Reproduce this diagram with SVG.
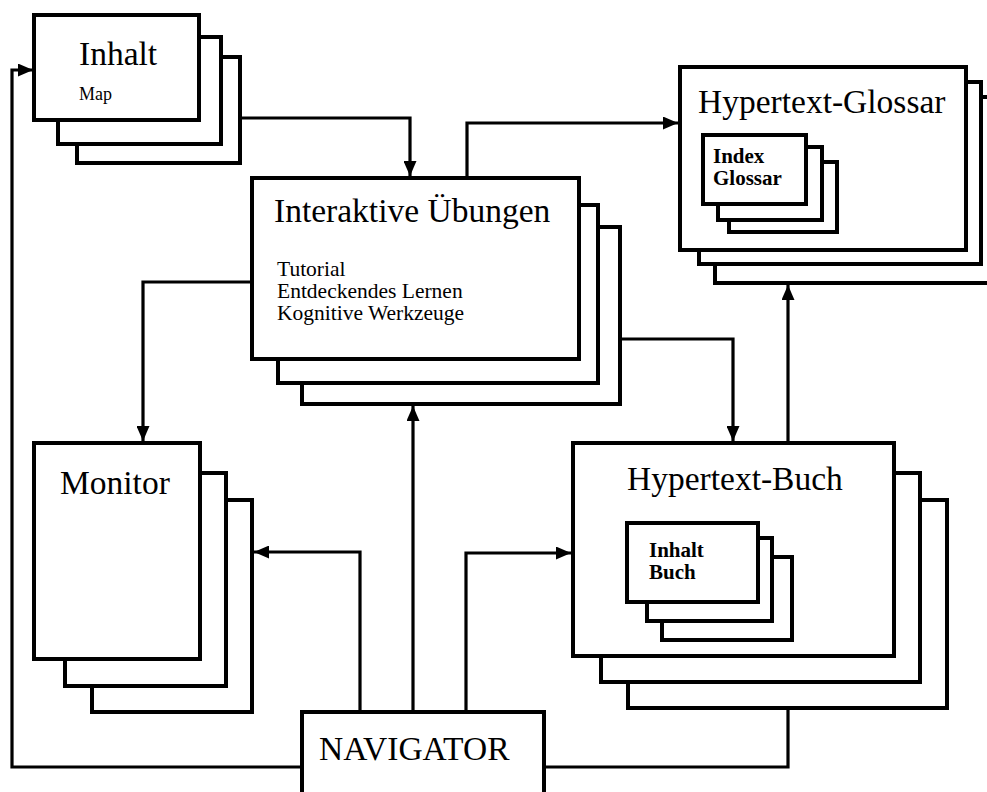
<svg xmlns="http://www.w3.org/2000/svg" width="987" height="792" viewBox="0 0 987 792">
<style>
.b{fill:#fff;stroke:#000;stroke-width:4}
.c{fill:none;stroke:#000;stroke-width:3.2}
.h{font-family:"Liberation Serif","Times New Roman",serif;font-size:33.5px;fill:#000}
.s{font-family:"Liberation Serif","Times New Roman",serif;font-size:21.5px;fill:#000}
.m{font-family:"Liberation Serif","Times New Roman",serif;font-size:18px;fill:#000}
.k{font-family:"Liberation Serif","Times New Roman",serif;font-size:21px;font-weight:bold;fill:#000}
</style>
<defs>
<marker id="ah" viewBox="0 0 15 13" refX="15" refY="6.5" markerWidth="15" markerHeight="13" orient="auto" markerUnits="userSpaceOnUse"><path d="M0,0 L15,6.5 L0,13 z" fill="#000"/></marker>
</defs>
<rect width="987" height="792" fill="#fff"/>
<g id="connectors">
<path class="c" d="M302,767 L12,767 L12,70 L33,70" marker-end="url(#ah)"/>
<path class="c" d="M544,767 L788,767 L788,708"/>
<path class="c" d="M360,712 L360,552 L254,552" marker-end="url(#ah)"/>
<path class="c" d="M413,712 L413,406" marker-end="url(#ah)"/>
<path class="c" d="M466,712 L466,553 L571,553" marker-end="url(#ah)"/>
<path class="c" d="M240,118 L410,118 L410,176" marker-end="url(#ah)"/>
<path class="c" d="M467,178 L467,123 L678,123" marker-end="url(#ah)"/>
<path class="c" d="M252,282 L143,282 L143,441" marker-end="url(#ah)"/>
<path class="c" d="M620,339 L733,339 L733,441" marker-end="url(#ah)"/>
<path class="c" d="M788,443 L788,285" marker-end="url(#ah)"/>
</g>
<g id="inhalt">
<rect class="b" x="77" y="57" width="163" height="106"/>
<rect class="b" x="58" y="37" width="163" height="107"/>
<rect class="b" x="34" y="15" width="165" height="105"/>
<text class="h" x="79" y="65">Inhalt</text>
<text class="m" x="79" y="100">Map</text>
</g>
<g id="interaktive">
<rect class="b" x="302" y="227" width="318" height="177"/>
<rect class="b" x="278" y="205" width="320" height="178"/>
<rect class="b" x="252" y="178" width="327" height="181"/>
<text class="h" x="274" y="222">Interaktive Übungen</text>
<text class="s" x="277" y="276">Tutorial</text>
<text class="s" x="277" y="298">Entdeckendes Lernen</text>
<text class="s" x="277" y="320">Kognitive Werkzeuge</text>
</g>
<g id="glossar">
<rect class="b" x="715" y="97" width="290" height="186"/>
<rect class="b" x="699" y="82" width="282" height="182"/>
<rect class="b" x="680" y="67" width="286" height="183"/>
<text class="h" x="698" y="113">Hypertext-Glossar</text>
<g id="index-glossar">
<rect class="b" x="729" y="162" width="108" height="70"/>
<rect class="b" x="718" y="147" width="104" height="73"/>
<rect class="b" x="703" y="135" width="103" height="69"/>
<text class="k" x="713" y="163">Index</text>
<text class="k" x="713" y="185">Glossar</text>
</g>
</g>
<g id="monitor">
<rect class="b" x="92" y="500" width="160" height="212"/>
<rect class="b" x="65" y="473" width="161" height="213"/>
<rect class="b" x="34" y="443" width="166" height="216"/>
<text class="h" x="60" y="494">Monitor</text>
</g>
<g id="buch">
<rect class="b" x="628" y="500" width="319" height="208"/>
<rect class="b" x="601" y="473" width="319" height="209"/>
<rect class="b" x="573" y="443" width="321" height="213"/>
<text class="h" x="627" y="490">Hypertext-Buch</text>
<g id="inhalt-buch">
<rect class="b" x="662" y="557" width="130" height="83"/>
<rect class="b" x="647" y="538" width="125" height="83"/>
<rect class="b" x="627" y="523" width="131" height="79"/>
<text class="k" x="649" y="557">Inhalt</text>
<text class="k" x="649" y="579">Buch</text>
</g>
</g>
<g id="navigator">
<rect class="b" x="302" y="712" width="242" height="90"/>
<text class="h" x="319" y="760">NAVIGATOR</text>
</g>
</svg>
